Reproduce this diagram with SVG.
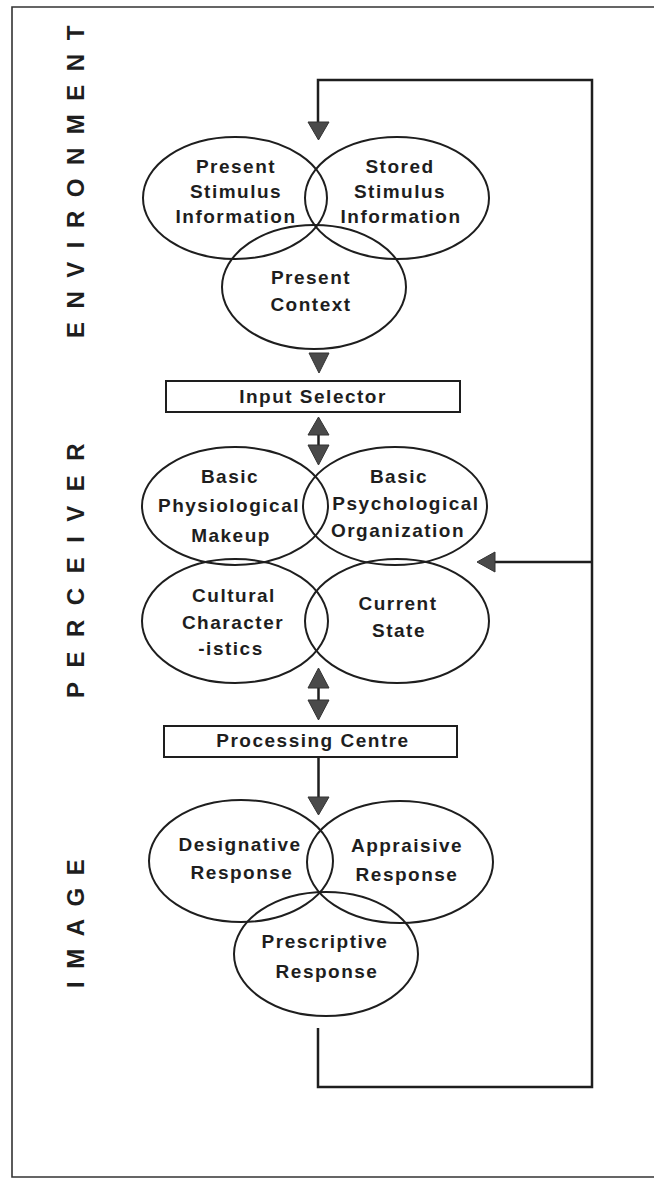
<svg xmlns="http://www.w3.org/2000/svg" width="654" height="1180" viewBox="0 0 654 1180">
  <style>
    .bg { fill: #ffffff; }
    .frame { fill: none; stroke: #333; stroke-width: 1.6; }
    .ell { fill: none; stroke: #1e1e1e; stroke-width: 2; }
    .box { fill: #ffffff; stroke: #1e1e1e; stroke-width: 2; }
    .t { font-family: "Liberation Sans", Arial, sans-serif; font-weight: bold; font-size: 19px; letter-spacing: 1.5px; text-anchor: middle; fill: #1e1e1e; }
    .side { font-family: "Liberation Sans", Arial, sans-serif; font-weight: bold; font-size: 24px; fill: #1e1e1e; }
    .line { fill: none; stroke: #1e1e1e; stroke-width: 2.5; }
    .head { fill: #4a4a4a; stroke: #333; stroke-width: 1; stroke-linejoin: round; }
  </style>
  <rect class="bg" x="0" y="0" width="654" height="1180"/>
  <g id="frame">
    <path class="frame" d="M654 7 H12 V1177 H654"/>
  </g>

  <g id="side-labels">
    <text class="side" letter-spacing="13.5" transform="translate(84,338) rotate(-90)">ENVIRONMENT</text>
    <text class="side" letter-spacing="14.5" transform="translate(84,698) rotate(-90)">PERCEIVER</text>
    <text class="side" letter-spacing="12.5" transform="translate(84,988) rotate(-90)">IMAGE</text>
  </g>

  <g id="connectors">
    <!-- feedback loop -->
    <path class="line" d="M318 1028 V1087 H592 V80 H318 V122"/>
    <polygon class="head" points="308,122 329,122 318.5,140"/>
    <!-- feedback into perceiver -->
    <path class="line" d="M592 562 H495"/>
    <polygon class="head" points="495,552 495,572 477,562"/>
    <!-- environment to input selector -->
    <polygon class="head" points="309,353 329,353 319,373"/>
    <!-- input selector <-> perceiver -->
    <path class="line" d="M318.5 434 V446"/>
    <polygon class="head" points="318.5,417 329,435 308,435"/>
    <polygon class="head" points="308,445 329,445 318.5,465"/>
    <!-- perceiver <-> processing centre -->
    <path class="line" d="M318.5 687 V701"/>
    <polygon class="head" points="318.5,668 329,688 308,688"/>
    <polygon class="head" points="308,700 329,700 318.5,720"/>
    <!-- processing centre to image -->
    <path class="line" d="M318.5 757 V798"/>
    <polygon class="head" points="308,797 329,797 318.5,815"/>
  </g>

  <g id="present-stimulus">
    <ellipse class="ell" cx="235" cy="198" rx="92" ry="61"/>
    <text class="t" x="236" y="173">Present</text>
    <text class="t" x="236" y="198">Stimulus</text>
    <text class="t" x="236" y="223">Information</text>
  </g>
  <g id="stored-stimulus">
    <ellipse class="ell" cx="397" cy="198" rx="92" ry="61"/>
    <text class="t" x="400" y="173">Stored</text>
    <text class="t" x="400" y="198">Stimulus</text>
    <text class="t" x="401" y="223">Information</text>
  </g>
  <g id="present-context">
    <ellipse class="ell" cx="314" cy="287" rx="92" ry="62"/>
    <text class="t" x="311" y="284">Present</text>
    <text class="t" x="311" y="311">Context</text>
  </g>

  <g id="input-selector">
    <rect class="box" x="166" y="381" width="294" height="31"/>
    <text class="t" x="313" y="403">Input Selector</text>
  </g>

  <g id="physiological">
    <ellipse class="ell" cx="235" cy="506" rx="93" ry="59"/>
    <text class="t" x="230" y="483">Basic</text>
    <text class="t" x="229" y="512">Physiological</text>
    <text class="t" x="231" y="542">Makeup</text>
  </g>
  <g id="psychological">
    <ellipse class="ell" cx="395" cy="506" rx="92" ry="59"/>
    <text class="t" x="399" y="483">Basic</text>
    <text class="t" x="406" y="510">Psychological</text>
    <text class="t" x="398" y="537">Organization</text>
  </g>
  <g id="cultural">
    <ellipse class="ell" cx="235" cy="621" rx="93" ry="62"/>
    <text class="t" x="234" y="602">Cultural</text>
    <text class="t" x="233" y="629">Character</text>
    <text class="t" x="231" y="655">-istics</text>
  </g>
  <g id="current-state">
    <ellipse class="ell" cx="397" cy="621" rx="92" ry="62"/>
    <text class="t" x="398" y="610">Current</text>
    <text class="t" x="399" y="637">State</text>
  </g>

  <g id="processing-centre">
    <rect class="box" x="164" y="726" width="293" height="31"/>
    <text class="t" x="313" y="747">Processing Centre</text>
  </g>

  <g id="designative">
    <ellipse class="ell" cx="241" cy="861" rx="92" ry="61"/>
    <text class="t" x="240" y="851">Designative</text>
    <text class="t" x="242" y="879">Response</text>
  </g>
  <g id="appraisive">
    <ellipse class="ell" cx="400" cy="862" rx="93" ry="61"/>
    <text class="t" x="407" y="852">Appraisive</text>
    <text class="t" x="407" y="881">Response</text>
  </g>
  <g id="prescriptive">
    <ellipse class="ell" cx="326" cy="954" rx="92" ry="62"/>
    <text class="t" x="325" y="948">Prescriptive</text>
    <text class="t" x="327" y="978">Response</text>
  </g>
</svg>
